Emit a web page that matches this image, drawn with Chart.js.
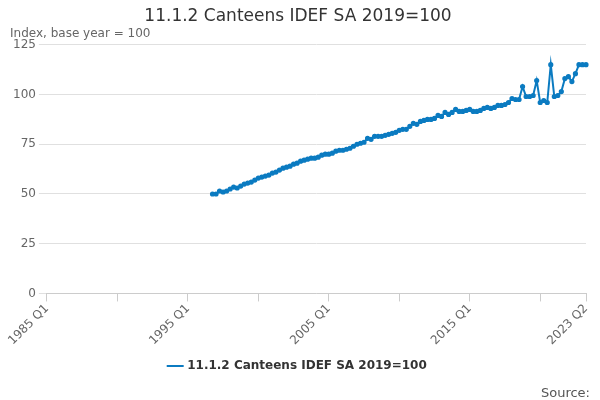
<!DOCTYPE html>
<html>
<head>
<meta charset="utf-8">
<script src="https://cdn.jsdelivr.net/npm/chart.js@4"></script>
<style>
  body { margin: 0; background: #fff; }
  #wrap { width: 600px; height: 400px; position: relative; }
</style>
</head>
<body>
<div id="wrap"><canvas id="chart"></canvas></div>
<script>
// quarters 1985 Q1 .. 2023 Q2
const startYear = 1985;
const quarters = [];
for (let y = startYear; y <= 2023; y++) {
    for (let q = 1; q <= 4; q++) {
        if (y == 2023 && q > 2) break;
        quarters.push(y + ' Q' + q);
    }
}
const tickLabels = ['1985 Q1', '1995 Q1', '2005 Q1', '2015 Q1', '2023 Q2'];

// values from 1996 Q4 onwards
const canteens = [
    50,
    50, 51.5, 51, 51.5,
    52.5, 53.5, 53, 54,
    55, 55.5, 56, 57,
    58, 58.5, 59, 59.5,
    60.5, 61, 62, 63,
    63.5, 64, 65, 65.5,
    66.5, 67, 67.5, 68,
    68, 68.5, 69.5, 70,
    70, 70.5, 71.5, 72,
    72, 72.5, 73, 74,
    75, 75.5, 76, 78,
    77.5, 79, 79, 79,
    79.5, 80, 80.5, 81,
    82, 82.5, 82.5, 84,
    85.5, 85, 86.5, 87,
    87.5, 87.5, 88, 89.5,
    89, 91, 90, 91,
    92.5, 91.5, 91.5, 92,
    92.5, 91.5, 91.5, 92,
    93, 93.5, 93, 93.5,
    94.5, 94.5, 95, 96,
    98, 97.5, 97.5, 104,
    99, 99, 99.5, 107,
    96, 97, 96, 115,
    99, 99.5, 101.5, 108,
    109, 106.5, 110.5, 115,
    115, 115
];
const seriesData = new Array(quarters.length - canteens.length).fill(null).concat(canteens);

const sourcePlugin = {
    id: 'source',
    afterDraw(chart) {
        const ctx = chart.ctx;
        ctx.save();
        ctx.font = '13px "DejaVu Sans", sans-serif';
        ctx.fillStyle = '#555';
        ctx.textAlign = 'right';
        ctx.fillText('Source:', 590, 394);
        ctx.restore();
    }
};

new Chart(document.getElementById('chart'), {
    type: 'line',
    data: {
        labels: quarters,
        datasets: [{
            label: '11.1.2 Canteens IDEF SA 2019=100',
            data: seriesData,
            borderColor: '#0b7bc1',
            backgroundColor: '#0b7bc1',
            borderWidth: 2,
            pointRadius: 1.6,
            pointHoverRadius: 3,
            tension: 0
        }]
    },
    options: {
        responsive: true,
        maintainAspectRatio: false,
        animation: false,
        layout: { padding: { left: 10, right: 14, bottom: 18 } },
        plugins: {
            title: {
                display: true,
                text: '11.1.2 Canteens IDEF SA 2019=100',
                color: '#333',
                font: { family: '"DejaVu Sans", sans-serif', size: 17, weight: 'normal' },
                padding: { top: 6, bottom: 0 }
            },
            subtitle: {
                display: true,
                text: 'Index, base year = 100',
                align: 'start',
                color: '#666',
                font: { family: '"DejaVu Sans", sans-serif', size: 12 },
                padding: { bottom: 4 }
            },
            legend: {
                position: 'bottom',
                labels: {
                    usePointStyle: true,
                    pointStyle: 'line',
                    color: '#333',
                    font: { family: '"DejaVu Sans", sans-serif', size: 12, weight: 'bold' },
                    padding: 12
                }
            }
        },
        scales: {
            x: {
                grid: {
                    drawOnChartArea: false,
                    tickLength: 8,
                    color: (c) => (c.index % 20 == 0 || c.index == quarters.length - 1) ? '#ccc' : 'rgba(0,0,0,0)'
                },
                border: { color: '#ccc' },
                ticks: {
                    autoSkip: false,
                    maxRotation: 45,
                    minRotation: 45,
                    padding: 0,
                    color: '#666',
                    font: { family: '"DejaVu Sans", sans-serif', size: 12 },
                    callback: function (val, i) {
                        const l = quarters[i];
                        return tickLabels.includes(l) ? l : '';
                    }
                }
            },
            y: {
                min: 0,
                max: 125,
                ticks: {
                    stepSize: 25,
                    color: '#666',
                    font: { family: '"DejaVu Sans", sans-serif', size: 12 }
                },
                grid: { color: '#e0e0e0' },
                border: { display: false }
            }
        }
    },
    plugins: [sourcePlugin]
});
</script>
</body>
</html>
